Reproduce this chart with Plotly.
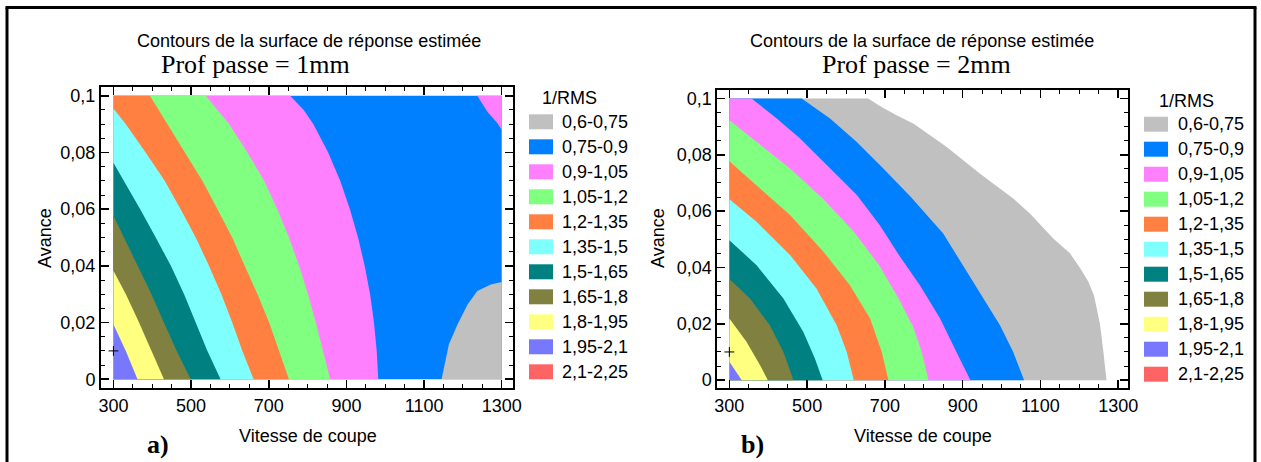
import plotly.graph_objects as go

# ---------------- data ----------------
V_MIN, V_MAX = 300, 1300          # Vitesse de coupe extent
F_MIN, F_MAX = 0.0, 0.1           # Avance extent

band_labels = ["0,6-0,75", "0,75-0,9", "0,9-1,05", "1,05-1,2", "1,2-1,35",
               "1,35-1,5", "1,5-1,65", "1,65-1,8", "1,8-1,95", "1,95-2,1", "2,1-2,25"]
band_colors = ["#C0C0C0", "#0080FF", "#FF80FF", "#80FF80", "#FF8040",
               "#80FFFF", "#008080", "#808040", "#FFFF80", "#7878FF", "#FF6464"]

x_tick_vals = [300, 500, 700, 900, 1100, 1300]
x_tick_text = ["300", "500", "700", "900", "1100", "1300"]
y_tick_vals = [0, 0.02, 0.04, 0.06, 0.08, 0.1]
y_tick_text = ["0", "0,02", "0,04", "0,06", "0,08", "0,1"]

# design point marker
design_V = [300]
design_F = [0.01]

# Panel a (Prof passe = 1mm): background band and contour boundaries
a_base_band = 1
# regions closed against the right edge
a_pink_tr_V = [1237, 1263, 1289, 1300]
a_pink_tr_F = [0.1, 0.0944, 0.0903, 0.0879]
a_gray_V = [1145, 1164, 1186, 1212, 1237, 1272, 1300]
a_gray_F = [0.0, 0.0123, 0.0193, 0.0264, 0.0311, 0.0334, 0.0343]
# boundaries (outer -> inner); band on the low-speed side
a_curve_band = [2, 3, 4, 5, 6, 7, 8, 9]
a_curve_V = [
    [755, 790, 815, 853, 884, 909, 930, 947, 961, 971, 978, 982],
    [538, 598, 645, 688, 722, 752, 778, 801, 821, 840, 858],
    [394, 439, 486, 529, 568, 606, 638, 671, 701, 727, 752],
    [300, 332, 383, 432, 473, 512, 546, 578, 606, 632, 661],
    [300, 327, 369, 409, 448, 482, 512, 542, 576],
    [300, 327, 364, 398, 430, 463, 499],
    [300, 332, 366, 398, 430],
    [300, 332, 362],
]
a_curve_F = [
    [0.1, 0.095, 0.09, 0.08, 0.07, 0.06, 0.05, 0.04, 0.03, 0.02, 0.01, 0.0],
    [0.1, 0.09, 0.08, 0.07, 0.06, 0.05, 0.04, 0.03, 0.02, 0.01, 0.0],
    [0.1, 0.09, 0.08, 0.07, 0.06, 0.05, 0.04, 0.03, 0.02, 0.01, 0.0],
    [0.0955, 0.09, 0.08, 0.07, 0.06, 0.05, 0.04, 0.03, 0.02, 0.01, 0.0],
    [0.0764, 0.07, 0.06, 0.05, 0.04, 0.03, 0.02, 0.01, 0.0],
    [0.0577, 0.05, 0.04, 0.03, 0.02, 0.01, 0.0],
    [0.0383, 0.03, 0.02, 0.01, 0.0],
    [0.0193, 0.01, 0.0],
]

# Panel b (Prof passe = 2mm)
b_curve_band = [0, 1, 2, 3, 4, 5, 6, 7, 8, 9]
b_curve_V = [
    [657, 687, 730, 773, 859, 944, 1030, 1073, 1133, 1176, 1201, 1223, 1238, 1253, 1262, 1270],
    [486, 559, 627, 696, 768, 850, 895, 944, 996, 1030, 1058],
    [357, 422, 482, 559, 628, 687, 739, 790, 842, 884, 920],
    [300, 370, 456, 540, 620, 685, 735, 772, 795, 812],
    [300, 370, 456, 542, 610, 662, 692, 709],
    [300, 370, 456, 524, 576, 602, 620],
    [300, 370, 439, 490, 520, 540],
    [300, 353, 404, 439, 465],
    [300, 344, 379, 399],
    [300, 332],
]
b_curve_F = [
    [0.1, 0.0973, 0.094, 0.0911, 0.0828, 0.0734, 0.0645, 0.0592, 0.0503, 0.045, 0.04, 0.035, 0.03, 0.02, 0.01, 0.0],
    [0.1, 0.0929, 0.0846, 0.0751, 0.0648, 0.0521, 0.042, 0.0313, 0.0195, 0.01, 0.0],
    [0.1, 0.0929, 0.0858, 0.0751, 0.0657, 0.055, 0.0438, 0.0337, 0.0219, 0.01, 0.0],
    [0.0923, 0.0846, 0.0751, 0.0645, 0.0527, 0.0408, 0.029, 0.019, 0.01, 0.0],
    [0.0777, 0.0692, 0.0586, 0.0456, 0.0337, 0.0219, 0.01, 0.0],
    [0.0642, 0.0562, 0.0444, 0.0325, 0.0195, 0.01, 0.0],
    [0.0497, 0.0408, 0.029, 0.0172, 0.0077, 0.0],
    [0.0359, 0.029, 0.0195, 0.01, 0.0],
    [0.0219, 0.0136, 0.0053, 0.0],
    [0.0065, 0.0],
]

# ---------------- figure ----------------
W, H = 1261, 462
fig = go.Figure()


def px(x):
    return x / W


def py(y):
    return 1 - y / H


def add_region(V, F, color, xa, ya):
    fig.add_trace(go.Scatter(x=V, y=F, mode="lines", fill="toself", fillcolor=color,
                             line=dict(width=0, color=color), hoverinfo="skip",
                             showlegend=False, xaxis=xa, yaxis=ya))


def low_side(V, F):
    """close a boundary against the low-speed/low-feed corner"""
    pv, pf = list(V), list(F)
    pv.append(V_MIN); pf.append(F_MIN)
    if F[0] >= F_MAX:
        pv.append(V_MIN); pf.append(F_MAX)
    return pv, pf


# panel a
add_region([V_MIN, V_MAX, V_MAX, V_MIN], [F_MIN, F_MIN, F_MAX, F_MAX],
           band_colors[a_base_band], "x", "y")
add_region(a_pink_tr_V + [V_MAX], a_pink_tr_F + [F_MAX], band_colors[2], "x", "y")
add_region(a_gray_V + [V_MAX], a_gray_F + [F_MIN], band_colors[0], "x", "y")
for band, V, F in zip(a_curve_band, a_curve_V, a_curve_F):
    pv, pf = low_side(V, F)
    add_region(pv, pf, band_colors[band], "x", "y")

# panel b
for band, V, F in zip(b_curve_band, b_curve_V, b_curve_F):
    pv, pf = low_side(V, F)
    add_region(pv, pf, band_colors[band], "x2", "y2")

for xa, ya in (("x", "y"), ("x2", "y2")):
    fig.add_trace(go.Scatter(x=design_V, y=design_F, mode="markers",
                             marker=dict(symbol="cross-thin", size=7,
                                         line=dict(width=1, color="black")),
                             hoverinfo="skip", showlegend=False, xaxis=xa, yaxis=ya))

axis_common = dict(showgrid=False, zeroline=False, showline=True, linecolor="black",
                   linewidth=2, mirror="allticks", ticks="inside", ticklen=8,
                   tickwidth=1.5, tickcolor="black", tickmode="array", automargin=False,
                   tickfont=dict(family="Liberation Sans, Arial", size=18, color="black"),
                   fixedrange=True)

minor_x = dict(tickmode="linear", tick0=300, dtick=50, ticks="inside",
               ticklen=4, tickwidth=1, tickcolor="black")
minor_y = dict(tickmode="linear", tick0=0, dtick=0.005, ticks="inside",
               ticklen=4, tickwidth=1, tickcolor="black")

fig.update_layout(
    width=W, height=H, autosize=False,
    margin=dict(l=0, r=0, t=0, b=0, pad=0),
    paper_bgcolor="white", plot_bgcolor="white", showlegend=False,
    font=dict(family="Liberation Sans, Arial", size=18, color="black"),
    xaxis=dict(axis_common, domain=[px(101), px(513)], range=[268, 1329], anchor="y",
               tickvals=x_tick_vals, ticktext=x_tick_text, minor=minor_x),
    yaxis=dict(axis_common, domain=[py(388.3), py(87.3)], range=[-0.0032, 0.103], anchor="x",
               tickvals=y_tick_vals, ticktext=y_tick_text, minor=minor_y),
    xaxis2=dict(axis_common, domain=[px(717.3), px(1128.3)], range=[269, 1326], anchor="y2",
                tickvals=x_tick_vals, ticktext=x_tick_text, minor=minor_x),
    yaxis2=dict(axis_common, domain=[py(388.3), py(90)], range=[-0.0029, 0.103], anchor="x2",
                tickvals=y_tick_vals, ticktext=y_tick_text, minor=minor_y),
)

ann = []
shapes = []
sans = "Liberation Sans, Arial"
serif = "Liberation Serif, Times New Roman"


def text(x, y, t, size=18, family=sans, anchor="center", angle=0, bold=False):
    if bold:
        t = "<b>" + t + "</b>"
    ann.append(dict(x=px(x), y=py(y), xref="paper", yref="paper", text=t, showarrow=False,
                    xanchor=anchor, yanchor="middle", textangle=angle, borderpad=0,
                    font=dict(family=family, size=size, color="black")))


panels = [
    dict(title_x=309, sub_x=255, sub="Prof passe = 1mm", avance_x=45, vit_x=307.5,
         tag_x=158, tag="a)", sw_x=529, lab_x=560.7, leg_title_x=569, leg_top=114.3),
    dict(title_x=922.5, sub_x=916, sub="Prof passe = 2mm", avance_x=658, vit_x=922.8,
         tag_x=752, tag="b)", sw_x=1144, lab_x=1176.7, leg_title_x=1186, leg_top=116.7),
]
for p in panels:
    text(p["title_x"], 41.5, "Contours de la surface de réponse estimée", size=18)
    text(p["sub_x"], 64.5, p["sub"], size=26, family=serif)
    text(p["avance_x"], 238, "Avance", size=18, angle=-90)
    text(p["vit_x"], 436, "Vitesse de coupe", size=18)
    text(p["tag_x"], 444, p["tag"], size=26, family=serif, bold=True)
    text(p["leg_title_x"], p["leg_top"] - 16, "1/RMS", size=18)
    for i, (lab, col) in enumerate(zip(band_labels, band_colors)):
        top = p["leg_top"] + 25 * i
        shapes.append(dict(type="rect", xref="paper", yref="paper",
                           x0=px(p["sw_x"]), x1=px(p["sw_x"] + 24),
                           y0=py(top + 15), y1=py(top), fillcolor=col,
                           line=dict(width=0)))
        text(p["lab_x"], top + 7.5, lab, size=18, anchor="left")

# outer frame (left, top, right)
for x0, y0, x1, y1 in ((7, 7.5, 7, 462), (5.5, 7.5, 1256.5, 7.5), (1255, 7.5, 1255, 462)):
    shapes.append(dict(type="line", xref="paper", yref="paper", x0=px(x0), y0=py(y0),
                       x1=px(x1), y1=py(y1), line=dict(color="black", width=3)))

fig.update_layout(annotations=ann, shapes=shapes)
fig.write_html("out.html",
               config={"displayModeBar": False, "staticPlot": True},
               post_script="document.body.style.margin='0';"
                           "document.body.style.padding='0';"
                           "document.body.style.overflow='hidden';")
